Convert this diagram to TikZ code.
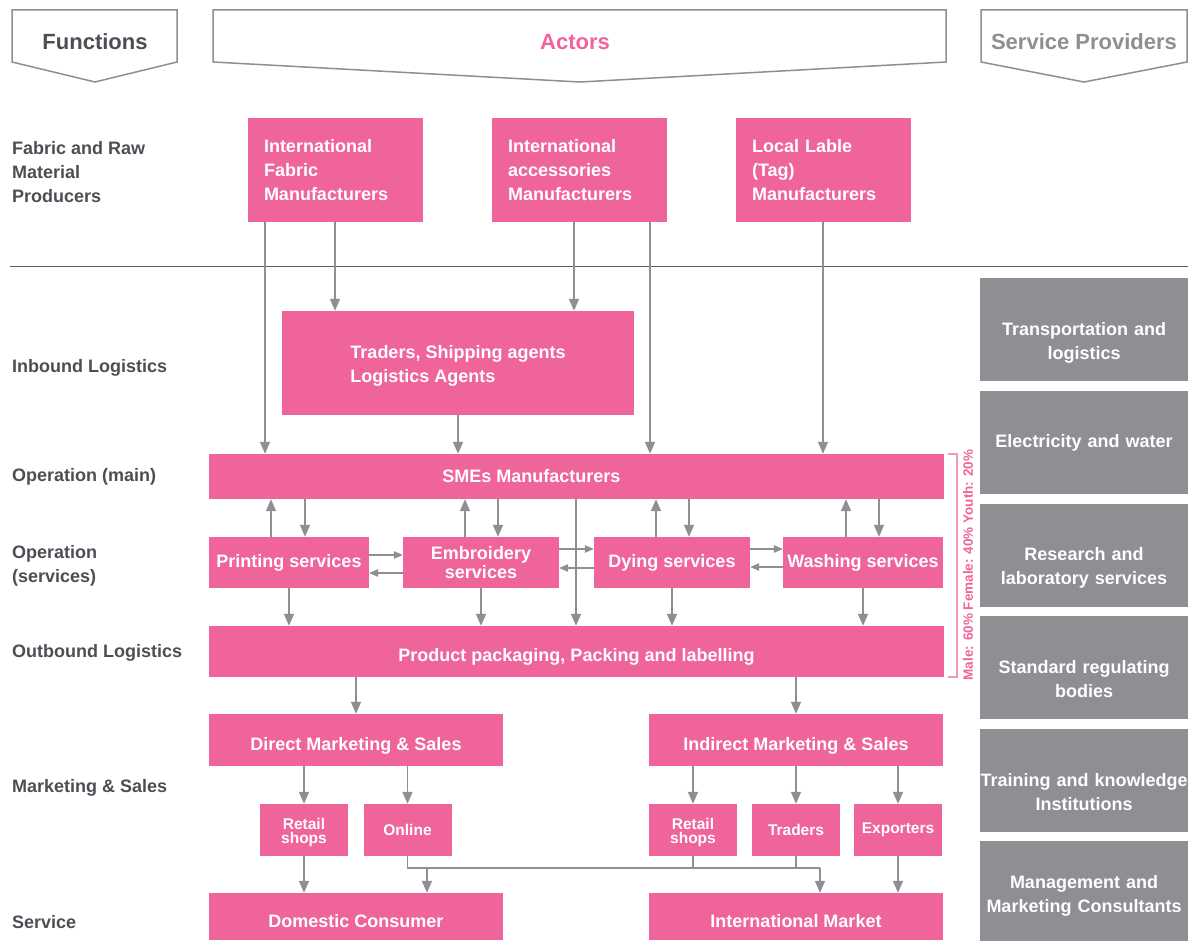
\documentclass[tikz,border=0pt]{standalone}
\usepackage{fontspec}
\setmainfont{Liberation Sans}
\usetikzlibrary{arrows.meta,positioning,calc}

\definecolor{vcpink}{RGB}{239,100,155}
\definecolor{vcgray}{RGB}{142,142,147}
\definecolor{vcdark}{RGB}{75,79,84}
\definecolor{vcrule}{RGB}{90,90,90}
\definecolor{vcsoft}{RGB}{245,150,186}

\tikzset{
	actor/.style={fill=vcpink, text=white, inner sep=0pt, align=center,
		font=\fontsize{18}{24}\selectfont\bfseries},
	oneline/.style={text height=20pt, text depth=0pt},
	maker/.style={actor, align=left, text width=143pt, minimum width=175pt, minimum height=104pt},
	service/.style={actor, minimum height=51pt, font=\fontsize{18}{19}\selectfont\bfseries},
	outlet/.style={actor, minimum width=88pt, minimum height=52pt,
		font=\fontsize{15.5}{14.5}\selectfont\bfseries},
	provider/.style={fill=vcgray, inner sep=0pt, minimum width=208pt, minimum height=103pt},
	provtext/.style={text=white, inner sep=0pt, align=center, text width=208pt,
		font=\fontsize{18}{24}\selectfont\bfseries},
	func/.style={text=vcdark, anchor=west, align=left, inner sep=0pt,
		font=\fontsize{18}{24}\selectfont\bfseries},
	header/.style={draw=vcgray, line width=1.5pt},
	flow/.style={draw=vcgray, line width=1.6pt, -{Triangle[length=12pt,width=10pt]}},
	side/.style={draw=vcgray, line width=1.2pt, -{Triangle[length=9pt,width=7.5pt]}},
	busline/.style={draw=vcgray, line width=1.4pt},
}

\begin{document}
\begin{tikzpicture}[x=1pt, y=-1pt]
	\useasboundingbox (0,0) rectangle (1191,941);

	% column headers
	\draw[header] (12,10) -- (177,10) -- (177,62) -- (95,82) -- (12,62) -- cycle;
	\draw[header] (213,10) -- (946,10) -- (946,62) -- (580,82) -- (213,62) -- cycle;
	\draw[header] (981,10) -- (1187,10) -- (1187,62) -- (1084,82) -- (981,62) -- cycle;
	\node[text=vcdark, font=\fontsize{22}{26}\selectfont\bfseries] (hfun) at (95,42) {Functions};
	\node[text=vcpink, font=\fontsize{22}{26}\selectfont\bfseries] (hact) at (575,42) {Actors};
	\node[text=vcgray, font=\fontsize{22}{26}\selectfont\bfseries] (hsrv) at (1084,42) {Service Providers};

	\draw[vcrule, line width=1pt] (10,267) -- (1188,267);

	% functions
	\node[func] (fraw) at (12,172) {Fabric and Raw\\Material\\Producers};
	\node[func] (finb) at (12,368) {Inbound Logistics};
	\node[func] (fopm) at (12,477) {Operation (main)};
	\node[func] (fops) at (12,566) {Operation\\(services)};
	\node[func] (fout) at (12,653) {Outbound Logistics};
	\node[func] (fmkt) at (12,788) {Marketing \& Sales};
	\node[func] (fsrv) at (12,922) {Service};

	% actors
	\node[maker] (fab) at (335.5,170) {International\\Fabric\\Manufacturers};
	\node[maker] (acc) at (579.5,170) {International\\accessories\\Manufacturers};
	\node[maker] (lab) at (823.5,170) {Local Lable\\(Tag)\\Manufacturers};
	\node[actor, align=left, minimum width=352pt, minimum height=104pt] (trd) at (458,363)
		{\\[-5pt]Traders, Shipping agents\\Logistics Agents};
	\node[actor, minimum width=735pt, minimum height=45pt] (sme) at (576.5,476.5) {};
	\node[actor, fill=none] (smet) at ([xshift=-45pt]sme.center) {SMEs Manufacturers};
	\node[service, minimum width=160pt] (prt) at (289,562.5) {Printing services};
	\node[service, minimum width=156pt] (emb) at (481,562.5) {Embroidery\\services};
	\node[service, minimum width=156pt] (dye) at (672,562.5) {Dying services};
	\node[service, minimum width=160pt] (wsh) at (863,562.5) {Washing services};
	\node[actor, oneline, minimum width=735pt, minimum height=51pt] (pkg) at (576.5,651.5)
		{Product packaging, Packing and labelling};
	\node[actor, oneline, minimum width=294pt, minimum height=52pt] (dms) at (356,740) {Direct Marketing \& Sales};
	\node[actor, oneline, minimum width=294pt, minimum height=52pt] (ims) at (796,740) {Indirect Marketing \& Sales};
	\node[outlet] (rt1) at (304,830) {\\[1.5pt]Retail\\shops};
	\node[outlet] (onl) at (407.5,830) {Online};
	\node[outlet] (rt2) at (693,830) {\\[1.5pt]Retail\\shops};
	\node[outlet] (trs) at (796,830) {Traders};
	\node[outlet] (exp) at (898,830) {Exporters};
	\node[actor, oneline, text height=22pt, minimum width=294pt, minimum height=47pt] (dom) at (356,916.5) {Domestic Consumer};
	\node[actor, oneline, text height=22pt, minimum width=294pt, minimum height=47pt] (int) at (796,916.5) {International Market};

	% service providers
	\node[provider, label={[provtext, yshift=-13pt]center:Transportation and\\logistics}] (sp1) at (1084,329.5) {};
	\node[provider, label={[provtext, yshift=-0.5pt]center:Electricity and water}] (sp2) at (1084,442.5) {};
	\node[provider, label={[provtext, yshift=-13pt]center:Research and\\laboratory services}] (sp3) at (1084,555) {};
	\node[provider, label={[provtext, yshift=-12pt]center:Standard regulating\\bodies}] (sp4) at (1084,667.5) {};
	\node[provider, label={[provtext, yshift=-12pt]center:Training and knowledge\\Institutions}] (sp5) at (1084,780.5) {};
	\node[provider, minimum height=100pt, label={[provtext, yshift=-5pt]center:Management and\\Marketing Consultants}] (sp6) at (1084,891) {};

	% inputs
	\draw[flow] (fab.south -| 265,0) -- (sme.north -| 265,0);
	\draw[flow] (fab.south -| 335,0) -- (trd.north -| 335,0);
	\draw[flow] (acc.south -| 574,0) -- (trd.north -| 574,0);
	\draw[flow] (acc.south -| 650,0) -- (sme.north -| 650,0);
	\draw[flow] (lab.south -| 823,0) -- (sme.north -| 823,0);
	\draw[flow] (trd.south) -- (trd.south |- sme.north);

	% main operation and services
	\foreach \up/\dn/\svc in {271/305/prt, 465/498/emb, 656/689/dye, 846/879/wsh}{
		\draw[flow] (\svc.north -| \up,0) -- (sme.south -| \up,0);
		\draw[flow] (sme.south -| \dn,0) -- (\svc.north -| \dn,0);
		\draw[flow] (\svc.south) -- (\svc.south |- pkg.north);
	}
	\draw[side] (prt.east |- 0,555) -- (emb.west |- 0,555);
	\draw[side] (emb.west |- 0,573) -- (prt.east |- 0,573);
	\draw[side] (emb.east |- 0,549) -- (dye.west |- 0,549);
	\draw[side] (dye.west |- 0,568) -- (emb.east |- 0,568);
	\draw[side] (dye.east |- 0,549) -- (wsh.west |- 0,549);
	\draw[side] (wsh.west |- 0,567) -- (dye.east |- 0,567);
	\draw[flow] (sme.south -| 576,0) -- (pkg.north -| 576,0);

	% outbound and sales
	\draw[flow] (pkg.south -| dms.north) -- (dms.north);
	\draw[flow] (pkg.south -| ims.north) -- (ims.north);
	\draw[flow] (dms.south -| rt1.north) -- (rt1.north);
	\draw[flow] (dms.south -| onl.north) -- (onl.north);
	\draw[flow] (ims.south -| rt2.north) -- (rt2.north);
	\draw[flow] (ims.south -| trs.north) -- (trs.north);
	\draw[flow] (ims.south -| exp.north) -- (exp.north);
	\draw[flow] (rt1.south) -- (rt1.south |- dom.north);
	\draw[flow] (exp.south) -- (exp.south |- int.north);

	\coordinate (bus) at (0,868);
	\draw[busline] (onl.south) |- (bus -| 820,0);
	\draw[flow] (bus -| 820,0) -- (int.north -| 820,0);
	\draw[flow] (bus -| 427,0) -- (dom.north -| 427,0);
	\draw[busline] (rt2.south) -- (rt2.south |- bus);
	\draw[busline] (trs.south) -- (trs.south |- bus);

	% gender split
	\draw[vcsoft, line width=1.5pt] ([xshift=4pt]sme.north east) -- ++(9,0) |- ([xshift=4pt]pkg.south east);
	\node[rotate=90, text=vcpink, inner sep=0pt, font=\fontsize{13.5}{14}\selectfont\bfseries] (ratio) at (968,565)
		{Male: 60\% Female: 40\% Youth: 20\%};
\end{tikzpicture}
\end{document}
